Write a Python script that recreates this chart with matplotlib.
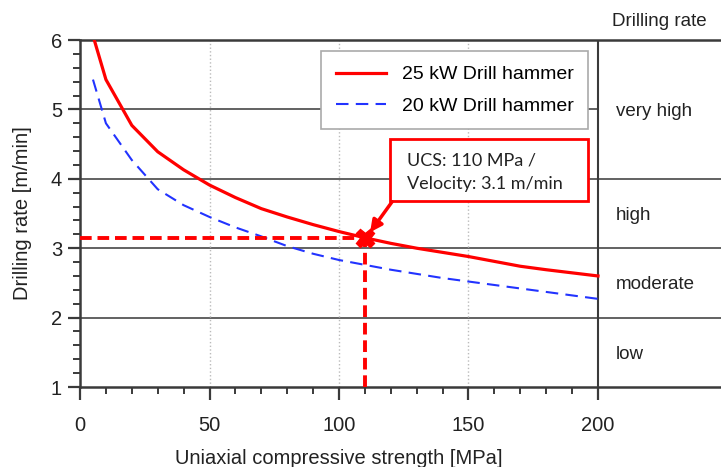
import matplotlib
matplotlib.use('Agg')
import matplotlib.pyplot as plt
from matplotlib.patches import Rectangle
from matplotlib.ticker import MultipleLocator, FixedLocator

plt.rcParams['font.family'] = ['Liberation Sans', 'DejaVu Sans']

ucs = [5.5, 10, 20, 30, 40, 50, 60, 70, 80, 90, 100, 110, 120, 130, 140, 150, 160, 170, 180, 190, 200]
rate_25kw = [6.0, 5.43, 4.77, 4.39, 4.13, 3.91, 3.73, 3.57, 3.45, 3.34, 3.24, 3.15, 3.07, 3.0, 2.94,
             2.88, 2.81, 2.74, 2.69, 2.645, 2.60]
ucs_20 = [5, 10, 20, 30, 40, 50, 60, 70, 80, 90, 100, 110, 120, 130, 140, 150, 160, 170, 180, 190, 200]
rate_20kw = [5.43, 4.8, 4.27, 3.85, 3.62, 3.45, 3.30, 3.17, 3.03, 2.92, 2.83, 2.76, 2.69, 2.63, 2.57,
             2.52, 2.47, 2.42, 2.37, 2.32, 2.27]

point_ucs = 110
point_rate = 3.15

classes = ['very high', 'high', 'moderate', 'low']
class_bounds = [(4, 6), (3, 4), (2, 3), (1, 2)]

fig = plt.figure(figsize=(7.21, 4.67), dpi=100)
ax = fig.add_axes([0.111, 0.1713, 0.889, 0.743])
ax.set_xlim(0, 247.5)
ax.set_ylim(1, 6)

dark = '#3a3a3a'

# grid: horizontal solid, vertical dotted
for y in [2, 3, 4]:
    ax.axhline(y, color='#555555', lw=1.3, zorder=1)
ax.plot([0, 200], [5, 5], color='#555555', lw=1.3, zorder=1)
for x in [50, 100, 150]:
    ax.axvline(x, color='#bbbbbb', lw=1.0, ls=':', zorder=1)
ax.axvline(200, color=dark, lw=1.5, zorder=1)

ax.spines['right'].set_visible(False)
for s in ['left', 'top', 'bottom']:
    ax.spines[s].set_color(dark)
    ax.spines[s].set_linewidth(1.8)

ax.xaxis.set_major_locator(FixedLocator([0, 50, 100, 150, 200]))
ax.xaxis.set_minor_locator(FixedLocator([v for v in range(10, 200, 10) if v % 50]))
ax.yaxis.set_major_locator(MultipleLocator(1))
ax.yaxis.set_minor_locator(MultipleLocator(0.2))
ax.tick_params(which='major', length=9, width=1.6, color=dark, labelsize=14.5, labelcolor='#222222')
ax.tick_params(which='minor', length=5, width=1.4, color=dark)
ax.tick_params(axis='x', which='major', pad=12)
ax.tick_params(axis='y', which='major', pad=4)

# curves
ax.plot(ucs, rate_25kw, color='#ff0000', lw=2.3, label='25 kW Drill hammer', zorder=3)
ax.plot(ucs_20, rate_20kw, color='#2233ff', lw=1.5, ls=(0, (6, 3.5)), label='20 kW Drill hammer', zorder=3)

# reading lines for the example point
ax.plot([0, point_ucs], [point_rate, point_rate], color='#ff0000', lw=2.8, ls=(0, (3, 1.5)),
        zorder=4, clip_on=False)
ax.plot([point_ucs, point_ucs], [1, point_rate], color='#ff0000', lw=2.8, ls=(0, (3, 1.5)),
        zorder=4, clip_on=False)
ax.plot([point_ucs], [point_rate], marker='X', color='#ff0000', ms=13, mec='#ff0000', zorder=5)

# annotation box
bx0, bx1, by0, by1 = 119.7, 196.1, 3.68, 4.57
ax.add_patch(Rectangle((bx0, by0), bx1 - bx0, by1 - by0, facecolor='white', edgecolor='#ff0000',
                       lw=2, zorder=6))
ax.text(bx0 + 6.5, 4.27, 'UCS: 110 MPa /', fontsize=13, family=['Lato', 'DejaVu Sans'],
        color='#222222', va='center', ha='left', zorder=7)
ax.text(bx0 + 6.5, 3.93, 'Velocity: 3.1 m/min', fontsize=13, family=['Lato', 'DejaVu Sans'],
        color='#222222', va='center', ha='left', zorder=7)
ax.annotate('', xy=(point_ucs + 2.0, point_rate + 0.08), xytext=(bx0 + 0.8, by0 - 0.01),
            arrowprops=dict(arrowstyle='-|>,head_length=0.7,head_width=0.35', color='#ff0000', lw=2.5,
                            shrinkA=0, shrinkB=0),
            zorder=6)

# class labels on the right
for name, (lo, hi) in zip(classes, class_bounds):
    ax.text(207, (lo + hi) / 2 - 0.03, name, fontsize=13.5, color='#222222', va='center', ha='left')
ax.text(205.5, 6.26, 'Drilling rate', fontsize=13.5, color='#222222', va='center', ha='left',
        clip_on=False)

leg = ax.legend(loc='upper left', bbox_to_anchor=(0.376, 0.968), borderaxespad=0, fontsize=14,
                fancybox=False, framealpha=1, edgecolor='#aaaaaa', handlelength=2.6,
                borderpad=0.75, labelspacing=0.7)
leg.get_frame().set_linewidth(1.2)
leg.set_zorder(8)

ax.set_xlabel('Uniaxial compressive strength [MPa]', fontsize=14.5, color='#222222')
ax.xaxis.set_label_coords(100 / 247.5, -0.18)
ax.set_ylabel('Drilling rate [m/min]', fontsize=14.5, color='#222222')
ax.yaxis.set_label_coords(-0.075, 0.5)

fig.savefig('out.png', dpi=100)
